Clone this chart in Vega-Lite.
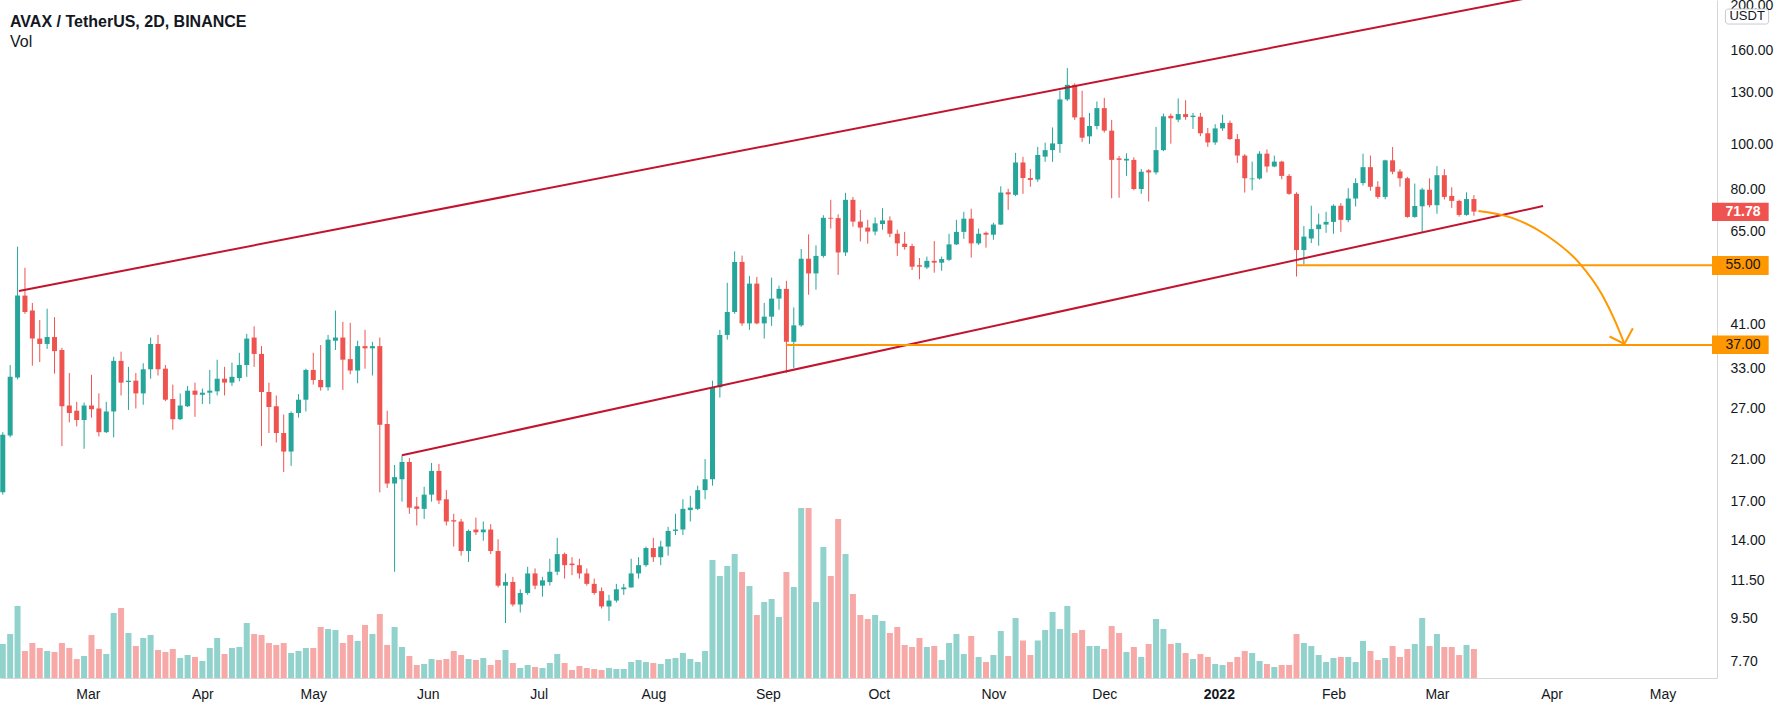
{
  "$schema": "https://vega.github.io/schema/vega-lite/v6.json",
  "width": 1717,
  "height": 678,
  "autosize": {"type": "none"},
  "padding": {"left": 0, "top": 0, "right": 70, "bottom": 36},
  "background": "white",
  "title": {
    "text": "AVAX / TetherUS, 2D, BINANCE",
    "subtitle": "Vol",
    "anchor": "start",
    "frame": "group",
    "orient": "top",
    "offset": -52,
    "dx": 10,
    "font": "Liberation Sans",
    "fontSize": 16,
    "fontWeight": "bold",
    "color": "#131722",
    "subtitleFont": "Liberation Sans",
    "subtitleFontSize": 16,
    "subtitleFontWeight": "normal",
    "subtitleColor": "#131722",
    "subtitlePadding": 4
  },
  "config": {"view": {"stroke": null}},
  "datasets": {
    "candles": [
      {"d":"2021-02-06","o":17.8,"h":24.0,"l":17.6,"c":23.7,"v":3.4},
      {"d":"2021-02-08","o":23.6,"h":33.5,"l":23.4,"c":31.6,"v":4.4},
      {"d":"2021-02-10","o":31.5,"h":60.3,"l":31.2,"c":47.3,"v":7.2},
      {"d":"2021-02-12","o":47.3,"h":54.3,"l":43.2,"c":43.6,"v":2.7},
      {"d":"2021-02-14","o":43.9,"h":45.6,"l":33.4,"c":38.2,"v":3.5},
      {"d":"2021-02-16","o":38.2,"h":41.9,"l":34.0,"c":37.2,"v":3.0},
      {"d":"2021-02-18","o":37.2,"h":44.3,"l":36.3,"c":38.5,"v":2.7},
      {"d":"2021-02-20","o":38.5,"h":42.5,"l":32.1,"c":35.9,"v":2.6},
      {"d":"2021-02-22","o":36.1,"h":36.5,"l":22.4,"c":27.3,"v":3.5},
      {"d":"2021-02-24","o":27.4,"h":32.2,"l":25.2,"c":26.4,"v":3.0},
      {"d":"2021-02-26","o":26.7,"h":27.9,"l":24.7,"c":25.5,"v":1.9},
      {"d":"2021-02-28","o":25.5,"h":27.8,"l":22.1,"c":27.4,"v":2.2},
      {"d":"2021-03-02","o":27.4,"h":31.9,"l":25.8,"c":26.9,"v":4.3},
      {"d":"2021-03-04","o":27.0,"h":29.1,"l":23.5,"c":24.0,"v":2.9},
      {"d":"2021-03-06","o":24.0,"h":27.9,"l":23.9,"c":26.6,"v":2.4},
      {"d":"2021-03-08","o":26.6,"h":34.9,"l":23.4,"c":34.2,"v":6.5},
      {"d":"2021-03-10","o":34.2,"h":35.8,"l":28.8,"c":30.7,"v":7.0},
      {"d":"2021-03-12","o":30.8,"h":33.2,"l":26.8,"c":31.0,"v":4.5},
      {"d":"2021-03-14","o":31.0,"h":32.2,"l":27.0,"c":29.1,"v":3.2},
      {"d":"2021-03-16","o":29.1,"h":33.8,"l":27.5,"c":32.8,"v":4.0},
      {"d":"2021-03-18","o":32.8,"h":38.4,"l":31.3,"c":37.2,"v":4.3},
      {"d":"2021-03-20","o":37.2,"h":38.9,"l":31.8,"c":32.8,"v":2.8},
      {"d":"2021-03-22","o":32.9,"h":33.5,"l":28.0,"c":28.2,"v":2.6},
      {"d":"2021-03-24","o":28.3,"h":30.4,"l":24.3,"c":25.6,"v":2.9},
      {"d":"2021-03-26","o":25.6,"h":29.1,"l":25.5,"c":27.4,"v":2.0},
      {"d":"2021-03-28","o":27.3,"h":30.2,"l":27.2,"c":29.5,"v":2.3},
      {"d":"2021-03-30","o":29.5,"h":30.7,"l":25.9,"c":28.9,"v":2.1},
      {"d":"2021-04-01","o":28.9,"h":29.8,"l":27.6,"c":29.2,"v":1.7},
      {"d":"2021-04-03","o":29.2,"h":32.7,"l":27.6,"c":29.5,"v":3.0},
      {"d":"2021-04-05","o":29.4,"h":34.4,"l":28.8,"c":31.3,"v":4.0},
      {"d":"2021-04-07","o":31.3,"h":33.2,"l":28.8,"c":30.7,"v":2.4},
      {"d":"2021-04-09","o":30.7,"h":33.9,"l":30.2,"c":31.6,"v":3.0},
      {"d":"2021-04-11","o":31.4,"h":35.6,"l":30.9,"c":33.5,"v":3.1},
      {"d":"2021-04-13","o":33.5,"h":39.1,"l":31.6,"c":38.2,"v":5.5},
      {"d":"2021-04-15","o":38.4,"h":40.6,"l":33.2,"c":35.4,"v":4.4},
      {"d":"2021-04-17","o":35.4,"h":36.8,"l":22.4,"c":29.3,"v":4.3},
      {"d":"2021-04-19","o":29.3,"h":30.7,"l":23.9,"c":27.2,"v":3.5},
      {"d":"2021-04-21","o":27.3,"h":28.8,"l":22.8,"c":23.9,"v":3.3},
      {"d":"2021-04-23","o":23.9,"h":26.2,"l":19.7,"c":21.8,"v":3.5},
      {"d":"2021-04-25","o":21.8,"h":26.6,"l":20.3,"c":26.4,"v":2.5},
      {"d":"2021-04-27","o":26.4,"h":29.0,"l":25.8,"c":28.2,"v":2.7},
      {"d":"2021-04-29","o":28.2,"h":32.9,"l":26.6,"c":32.7,"v":3.0},
      {"d":"2021-05-01","o":32.7,"h":35.6,"l":30.4,"c":31.1,"v":3.0},
      {"d":"2021-05-03","o":31.1,"h":37.0,"l":29.5,"c":30.0,"v":5.1},
      {"d":"2021-05-05","o":30.0,"h":38.9,"l":29.5,"c":38.0,"v":4.9},
      {"d":"2021-05-07","o":37.8,"h":43.9,"l":36.1,"c":38.4,"v":4.8},
      {"d":"2021-05-09","o":38.4,"h":41.5,"l":29.6,"c":34.4,"v":3.5},
      {"d":"2021-05-11","o":34.5,"h":41.3,"l":32.0,"c":32.6,"v":4.3},
      {"d":"2021-05-13","o":32.6,"h":37.8,"l":30.6,"c":36.8,"v":3.7},
      {"d":"2021-05-15","o":36.8,"h":39.9,"l":32.9,"c":36.4,"v":5.3},
      {"d":"2021-05-17","o":36.4,"h":37.6,"l":31.8,"c":36.8,"v":4.4},
      {"d":"2021-05-19","o":36.8,"h":38.4,"l":17.8,"c":24.9,"v":6.4},
      {"d":"2021-05-21","o":25.0,"h":26.7,"l":18.2,"c":18.6,"v":3.3},
      {"d":"2021-05-23","o":18.6,"h":20.4,"l":12.0,"c":19.2,"v":5.1},
      {"d":"2021-05-25","o":19.0,"h":21.4,"l":17.0,"c":20.7,"v":3.1},
      {"d":"2021-05-27","o":20.7,"h":21.1,"l":16.0,"c":16.5,"v":2.2},
      {"d":"2021-05-29","o":16.6,"h":17.4,"l":15.1,"c":16.4,"v":1.3},
      {"d":"2021-05-31","o":16.4,"h":18.3,"l":15.6,"c":17.6,"v":1.4},
      {"d":"2021-06-02","o":17.6,"h":20.6,"l":17.0,"c":19.8,"v":1.9},
      {"d":"2021-06-04","o":19.8,"h":20.5,"l":16.8,"c":17.1,"v":1.8},
      {"d":"2021-06-06","o":17.2,"h":18.0,"l":15.1,"c":15.4,"v":1.9},
      {"d":"2021-06-08","o":15.5,"h":16.0,"l":13.6,"c":15.4,"v":2.7},
      {"d":"2021-06-10","o":15.4,"h":15.6,"l":13.0,"c":13.3,"v":2.3},
      {"d":"2021-06-12","o":13.3,"h":14.8,"l":12.6,"c":14.7,"v":1.9},
      {"d":"2021-06-14","o":14.8,"h":15.7,"l":14.4,"c":14.6,"v":1.8},
      {"d":"2021-06-16","o":14.6,"h":15.4,"l":14.0,"c":14.8,"v":2.0},
      {"d":"2021-06-18","o":14.8,"h":15.2,"l":13.1,"c":13.3,"v":1.3},
      {"d":"2021-06-20","o":13.3,"h":14.1,"l":11.1,"c":11.2,"v":1.8},
      {"d":"2021-06-22","o":11.2,"h":11.9,"l":9.3,"c":11.4,"v":2.8},
      {"d":"2021-06-24","o":11.4,"h":11.7,"l":10.1,"c":10.2,"v":1.5},
      {"d":"2021-06-26","o":10.2,"h":11.0,"l":9.8,"c":10.8,"v":1.0},
      {"d":"2021-06-28","o":10.8,"h":12.3,"l":10.7,"c":11.9,"v":1.3},
      {"d":"2021-06-30","o":11.9,"h":12.2,"l":11.0,"c":11.2,"v":1.1},
      {"d":"2021-07-02","o":11.2,"h":11.7,"l":10.6,"c":11.5,"v":1.0},
      {"d":"2021-07-04","o":11.4,"h":12.8,"l":11.2,"c":12.0,"v":1.5},
      {"d":"2021-07-06","o":12.0,"h":14.2,"l":11.8,"c":13.1,"v":2.4},
      {"d":"2021-07-08","o":13.1,"h":13.2,"l":11.6,"c":12.4,"v":1.5},
      {"d":"2021-07-10","o":12.5,"h":12.9,"l":11.8,"c":12.4,"v":0.8},
      {"d":"2021-07-12","o":12.4,"h":12.8,"l":11.6,"c":11.9,"v":1.2},
      {"d":"2021-07-14","o":11.9,"h":12.2,"l":11.2,"c":11.3,"v":1.0},
      {"d":"2021-07-16","o":11.3,"h":11.6,"l":10.7,"c":10.8,"v":0.9},
      {"d":"2021-07-18","o":10.9,"h":11.1,"l":10.0,"c":10.1,"v":0.8},
      {"d":"2021-07-20","o":10.1,"h":10.7,"l":9.4,"c":10.4,"v":1.0},
      {"d":"2021-07-22","o":10.4,"h":11.3,"l":10.3,"c":11.0,"v":0.9},
      {"d":"2021-07-24","o":11.0,"h":11.3,"l":10.7,"c":11.1,"v":0.9},
      {"d":"2021-07-26","o":11.1,"h":12.8,"l":11.1,"c":11.9,"v":1.6},
      {"d":"2021-07-28","o":11.9,"h":12.9,"l":11.6,"c":12.4,"v":1.8},
      {"d":"2021-07-30","o":12.4,"h":13.6,"l":12.3,"c":13.5,"v":1.6},
      {"d":"2021-08-01","o":13.5,"h":14.2,"l":12.6,"c":12.9,"v":1.5},
      {"d":"2021-08-03","o":12.9,"h":14.0,"l":12.4,"c":13.6,"v":1.4},
      {"d":"2021-08-05","o":13.6,"h":15.0,"l":13.0,"c":14.7,"v":1.9},
      {"d":"2021-08-07","o":14.7,"h":16.0,"l":14.4,"c":14.8,"v":2.0},
      {"d":"2021-08-09","o":14.8,"h":17.2,"l":14.4,"c":16.4,"v":2.5},
      {"d":"2021-08-11","o":16.3,"h":17.5,"l":15.4,"c":16.5,"v":1.9},
      {"d":"2021-08-13","o":16.4,"h":18.4,"l":16.3,"c":18.0,"v":1.6},
      {"d":"2021-08-15","o":18.0,"h":21.0,"l":17.2,"c":19.0,"v":2.7},
      {"d":"2021-08-17","o":19.0,"h":31.0,"l":18.4,"c":30.0,"v":11.8},
      {"d":"2021-08-19","o":30.0,"h":39.9,"l":28.5,"c":38.9,"v":10.2},
      {"d":"2021-08-21","o":38.9,"h":50.4,"l":38.0,"c":43.6,"v":11.2},
      {"d":"2021-08-23","o":43.6,"h":58.9,"l":43.2,"c":55.9,"v":12.4},
      {"d":"2021-08-25","o":55.9,"h":57.7,"l":40.7,"c":41.2,"v":10.6},
      {"d":"2021-08-27","o":41.2,"h":52.1,"l":39.9,"c":50.2,"v":9.2},
      {"d":"2021-08-29","o":50.2,"h":51.9,"l":41.0,"c":41.2,"v":6.3},
      {"d":"2021-08-31","o":41.2,"h":45.6,"l":38.2,"c":42.6,"v":7.6},
      {"d":"2021-09-02","o":42.6,"h":51.7,"l":40.7,"c":46.6,"v":7.9},
      {"d":"2021-09-04","o":46.6,"h":49.7,"l":44.1,"c":48.9,"v":6.1},
      {"d":"2021-09-06","o":48.9,"h":50.9,"l":32.2,"c":37.6,"v":10.6},
      {"d":"2021-09-08","o":37.6,"h":44.6,"l":33.0,"c":40.8,"v":9.1},
      {"d":"2021-09-10","o":40.8,"h":59.6,"l":40.5,"c":56.8,"v":17.0},
      {"d":"2021-09-12","o":56.8,"h":64.1,"l":47.5,"c":52.8,"v":17.0},
      {"d":"2021-09-14","o":52.8,"h":60.7,"l":48.7,"c":57.6,"v":7.6},
      {"d":"2021-09-16","o":57.6,"h":70.5,"l":57.1,"c":69.6,"v":13.1},
      {"d":"2021-09-18","o":69.6,"h":76.1,"l":66.0,"c":69.3,"v":10.2},
      {"d":"2021-09-20","o":69.5,"h":70.8,"l":52.4,"c":58.6,"v":15.9},
      {"d":"2021-09-22","o":58.6,"h":78.8,"l":57.6,"c":76.1,"v":12.4},
      {"d":"2021-09-24","o":76.1,"h":77.2,"l":66.6,"c":68.3,"v":8.4},
      {"d":"2021-09-26","o":68.3,"h":72.4,"l":61.9,"c":66.3,"v":6.3},
      {"d":"2021-09-28","o":66.3,"h":68.9,"l":61.2,"c":65.0,"v":5.9},
      {"d":"2021-09-30","o":65.0,"h":69.7,"l":63.8,"c":67.7,"v":6.3},
      {"d":"2021-10-02","o":67.5,"h":73.0,"l":65.6,"c":68.7,"v":5.7},
      {"d":"2021-10-04","o":68.7,"h":70.1,"l":63.2,"c":64.3,"v":4.5},
      {"d":"2021-10-06","o":64.3,"h":65.6,"l":57.6,"c":61.3,"v":5.1},
      {"d":"2021-10-08","o":61.2,"h":64.9,"l":59.4,"c":60.2,"v":3.3},
      {"d":"2021-10-10","o":60.5,"h":61.2,"l":53.7,"c":54.6,"v":3.1},
      {"d":"2021-10-12","o":55.0,"h":57.0,"l":51.3,"c":54.6,"v":4.0},
      {"d":"2021-10-14","o":54.4,"h":57.4,"l":54.0,"c":56.2,"v":3.1},
      {"d":"2021-10-16","o":56.2,"h":62.0,"l":53.0,"c":55.7,"v":3.2},
      {"d":"2021-10-18","o":55.7,"h":57.4,"l":53.5,"c":56.7,"v":1.8},
      {"d":"2021-10-20","o":56.5,"h":64.3,"l":56.2,"c":61.0,"v":3.5},
      {"d":"2021-10-22","o":61.0,"h":68.9,"l":60.8,"c":64.9,"v":4.4},
      {"d":"2021-10-24","o":64.9,"h":71.7,"l":62.7,"c":69.3,"v":2.4},
      {"d":"2021-10-26","o":69.3,"h":72.8,"l":57.1,"c":61.3,"v":4.2},
      {"d":"2021-10-28","o":61.3,"h":66.0,"l":60.8,"c":64.3,"v":2.1},
      {"d":"2021-10-30","o":64.6,"h":65.0,"l":60.0,"c":64.0,"v":1.6},
      {"d":"2021-11-01","o":64.0,"h":67.9,"l":62.4,"c":67.3,"v":2.3},
      {"d":"2021-11-03","o":67.3,"h":81.4,"l":67.2,"c":78.9,"v":4.7},
      {"d":"2021-11-05","o":79.0,"h":80.4,"l":72.4,"c":78.2,"v":2.2},
      {"d":"2021-11-07","o":78.0,"h":96.1,"l":77.5,"c":91.6,"v":6.0},
      {"d":"2021-11-09","o":91.6,"h":94.2,"l":78.4,"c":84.8,"v":3.75},
      {"d":"2021-11-11","o":84.8,"h":88.7,"l":81.2,"c":84.0,"v":2.3},
      {"d":"2021-11-13","o":84.2,"h":99.0,"l":83.2,"c":95.1,"v":3.75},
      {"d":"2021-11-15","o":94.3,"h":101.1,"l":91.9,"c":97.4,"v":4.8},
      {"d":"2021-11-17","o":97.4,"h":109.0,"l":91.9,"c":100.7,"v":6.6},
      {"d":"2021-11-19","o":100.4,"h":130.9,"l":96.1,"c":125.3,"v":4.9},
      {"d":"2021-11-21","o":125.3,"h":146.4,"l":124.3,"c":134.7,"v":7.2},
      {"d":"2021-11-23","o":134.7,"h":135.8,"l":113.2,"c":114.6,"v":4.5},
      {"d":"2021-11-25","o":114.6,"h":130.8,"l":101.5,"c":103.6,"v":4.8},
      {"d":"2021-11-27","o":104.3,"h":117.2,"l":100.5,"c":109.8,"v":3.2},
      {"d":"2021-11-29","o":109.8,"h":124.0,"l":108.0,"c":120.0,"v":3.2},
      {"d":"2021-12-01","o":120.0,"h":126.3,"l":106.3,"c":107.3,"v":2.9},
      {"d":"2021-12-03","o":107.3,"h":113.2,"l":76.7,"c":92.8,"v":5.2},
      {"d":"2021-12-05","o":93.5,"h":94.6,"l":76.9,"c":92.8,"v":4.5},
      {"d":"2021-12-07","o":92.5,"h":95.9,"l":85.7,"c":93.3,"v":2.6},
      {"d":"2021-12-09","o":92.8,"h":94.0,"l":79.8,"c":80.3,"v":3.1},
      {"d":"2021-12-11","o":80.3,"h":88.7,"l":78.4,"c":87.5,"v":2.1},
      {"d":"2021-12-13","o":88.1,"h":88.7,"l":75.5,"c":87.2,"v":3.4},
      {"d":"2021-12-15","o":87.2,"h":109.3,"l":86.3,"c":97.4,"v":5.9},
      {"d":"2021-12-17","o":97.4,"h":116.8,"l":96.9,"c":115.2,"v":4.9},
      {"d":"2021-12-19","o":115.5,"h":116.8,"l":100.6,"c":114.1,"v":3.4},
      {"d":"2021-12-21","o":113.3,"h":125.9,"l":111.9,"c":116.5,"v":3.5},
      {"d":"2021-12-23","o":116.5,"h":124.8,"l":113.2,"c":114.8,"v":2.5},
      {"d":"2021-12-25","o":114.8,"h":117.2,"l":108.2,"c":115.6,"v":1.9},
      {"d":"2021-12-27","o":115.0,"h":117.2,"l":104.4,"c":105.9,"v":2.4},
      {"d":"2021-12-29","o":105.9,"h":108.7,"l":99.0,"c":101.2,"v":2.1},
      {"d":"2021-12-31","o":101.2,"h":110.8,"l":100.0,"c":108.5,"v":1.4},
      {"d":"2022-01-02","o":108.5,"h":116.1,"l":107.2,"c":111.5,"v":1.3},
      {"d":"2022-01-04","o":111.5,"h":112.8,"l":102.5,"c":102.9,"v":1.6},
      {"d":"2022-01-06","o":102.9,"h":105.5,"l":91.4,"c":94.8,"v":2.1},
      {"d":"2022-01-08","o":94.8,"h":95.5,"l":78.9,"c":84.7,"v":2.7},
      {"d":"2022-01-10","o":84.3,"h":92.0,"l":79.8,"c":84.6,"v":2.5},
      {"d":"2022-01-12","o":84.6,"h":96.9,"l":84.1,"c":95.7,"v":1.7},
      {"d":"2022-01-14","o":95.7,"h":97.7,"l":87.2,"c":89.8,"v":1.4},
      {"d":"2022-01-16","o":89.8,"h":94.8,"l":89.5,"c":92.0,"v":1.1},
      {"d":"2022-01-18","o":92.0,"h":92.4,"l":84.3,"c":85.7,"v":1.3},
      {"d":"2022-01-20","o":85.7,"h":86.5,"l":78.0,"c":78.4,"v":1.3},
      {"d":"2022-01-22","o":78.4,"h":79.0,"l":52.0,"c":59.3,"v":4.4},
      {"d":"2022-01-24","o":59.3,"h":66.8,"l":55.2,"c":63.4,"v":3.5},
      {"d":"2022-01-26","o":62.8,"h":73.9,"l":61.4,"c":65.8,"v":3.2},
      {"d":"2022-01-28","o":65.8,"h":71.1,"l":60.6,"c":67.3,"v":2.3},
      {"d":"2022-01-30","o":67.3,"h":71.7,"l":64.6,"c":68.2,"v":1.6},
      {"d":"2022-02-01","o":68.2,"h":74.4,"l":64.3,"c":73.9,"v":2.0},
      {"d":"2022-02-03","o":73.9,"h":74.9,"l":64.9,"c":68.9,"v":2.1},
      {"d":"2022-02-05","o":68.8,"h":80.6,"l":68.1,"c":76.6,"v":2.1},
      {"d":"2022-02-07","o":76.6,"h":84.7,"l":73.6,"c":82.7,"v":1.6},
      {"d":"2022-02-09","o":82.7,"h":95.7,"l":81.7,"c":89.5,"v":3.7},
      {"d":"2022-02-11","o":89.5,"h":94.8,"l":79.6,"c":81.2,"v":2.7},
      {"d":"2022-02-13","o":81.2,"h":83.5,"l":76.5,"c":77.2,"v":1.8},
      {"d":"2022-02-15","o":77.2,"h":92.9,"l":76.3,"c":92.6,"v":2.0},
      {"d":"2022-02-17","o":92.6,"h":98.9,"l":86.4,"c":87.5,"v":3.2},
      {"d":"2022-02-19","o":87.6,"h":88.6,"l":81.2,"c":84.7,"v":2.1},
      {"d":"2022-02-21","o":84.7,"h":85.3,"l":69.6,"c":69.9,"v":2.9},
      {"d":"2022-02-23","o":69.9,"h":82.5,"l":69.6,"c":73.8,"v":3.4},
      {"d":"2022-02-25","o":73.7,"h":80.8,"l":64.9,"c":80.1,"v":6.0},
      {"d":"2022-02-27","o":80.0,"h":84.7,"l":73.3,"c":74.1,"v":3.2},
      {"d":"2022-03-01","o":74.1,"h":90.0,"l":71.0,"c":86.0,"v":4.4},
      {"d":"2022-03-03","o":86.0,"h":88.6,"l":76.2,"c":77.2,"v":3.1},
      {"d":"2022-03-05","o":77.6,"h":81.0,"l":73.1,"c":75.7,"v":3.1},
      {"d":"2022-03-07","o":75.7,"h":76.2,"l":70.0,"c":70.6,"v":2.3},
      {"d":"2022-03-09","o":70.6,"h":79.0,"l":70.3,"c":76.4,"v":3.3},
      {"d":"2022-03-11","o":76.4,"h":77.9,"l":70.3,"c":71.78,"v":2.9}
    ],
    "trend": [
      {"id":"upper","d":"2021-02-10T09:00:00Z","p":48.4},
      {"id":"upper","d":"2022-04-12T22:00:00Z","p":221.3},
      {"id":"lower","d":"2021-05-25T00:00:00Z","p":21.4},
      {"id":"lower","d":"2022-03-29T17:00:00Z","p":73.8}
    ],
    "levels": [
      {"d":"2022-01-22T00:00:00Z","d2":"2022-06-01T00:00:00Z","p":55},
      {"d":"2021-09-06T00:00:00Z","d2":"2022-06-01T00:00:00Z","p":37}
    ],
    "curve": [
      {"d":"2022-03-12T05:00:00Z","p":72.0},
      {"d":"2022-03-21T12:00:00Z","p":69.5},
      {"d":"2022-03-30T12:00:00Z","p":63.9},
      {"d":"2022-04-08T10:00:00Z","p":55.7},
      {"d":"2022-04-14T19:00:00Z","p":47.3},
      {"d":"2022-04-18T07:00:00Z","p":41.5},
      {"d":"2022-04-20T17:00:00Z","p":37.2}
    ],
    "head": [
      {"d":"2022-04-16T17:00:00Z","p":38.6},
      {"d":"2022-04-20T17:00:00Z","p":37.2},
      {"d":"2022-04-23T00:00:00Z","p":40.2}
    ],
    "tags": [
      {"k":"last","d":"2022-05-14T09:50:00Z","d2":"2022-05-29T17:45:00Z","p":75.0,"p2":68.5},
      {"k":"level","d":"2022-05-14T09:50:00Z","d2":"2022-05-29T17:45:00Z","p":57.6,"p2":52.4},
      {"k":"level","d":"2022-05-14T09:50:00Z","d2":"2022-05-29T17:45:00Z","p":38.8,"p2":35.4}
    ],
    "tagText": [
      {"k":"last","t":"71.78","d":"2022-05-18T01:00:00Z","p":71.78},
      {"k":"level","t":"55.00","d":"2022-05-18T01:00:00Z","p":55},
      {"k":"level","t":"37.00","d":"2022-05-18T01:00:00Z","p":37}
    ],
    "unitBox": [
      {"t":"USDT","d":"2022-05-18T01:00:00Z","d2":"2022-05-29T17:45:00Z","dc":"2022-05-23T22:00:00Z","p":196.3,"p2":182.2,"pc":189.3}
    ]
  },
  "encoding": {
    "x": {
      "field": "d",
      "type": "temporal",
      "scale": {
        "type": "utc",
        "domain": [
          {"year": 2021, "month": 2, "date": 6, "hours": 14, "minutes": 24, "utc": true},
          {"year": 2022, "month": 5, "date": 14, "hours": 9, "minutes": 50, "utc": true}
        ]
      },
      "axis": {
        "title": null,
        "grid": false,
        "ticks": false,
        "tickSize": 0,
        "domain": true,
        "domainColor": "#d6d6d6",
        "tickCount": {"interval": "month", "step": 1},
        "labelExpr": "utcmonth(datum.value) == 0 ? utcFormat(datum.value, '%Y') : utcFormat(datum.value, '%b')",
        "labelFontWeight": {"condition": {"test": "utcmonth(datum.value) == 0", "value": "bold"}, "value": "normal"},
        "labelFont": "Liberation Sans",
        "labelFontSize": 14,
        "labelColor": "#131722",
        "labelPadding": 9,
        "labelOverlap": false,
        "labelFlush": false
      }
    }
  },
  "layer": [
    {
      "data": {"name": "candles"},
      "mark": {"type": "bar", "width": 6, "opacity": 0.5, "clip": true},
      "encoding": {
        "y": {"field": "v", "type": "quantitative", "scale": {"domain": [0, 67.8], "nice": false, "zero": true}, "axis": null},
        "color": {"condition": {"test": "datum.c >= datum.o", "value": "#26a69a"}, "value": "#ef5350"}
      }
    },
    {
      "layer": [
        {
          "data": {"name": "candles"},
          "mark": {"type": "rule", "strokeWidth": 1, "clip": true},
          "encoding": {
            "y": {
              "field": "l",
              "type": "quantitative",
              "scale": {"type": "log", "domain": [7.08, 205.3], "nice": false},
              "axis": {
                "orient": "right",
                "title": null,
                "grid": false,
                "ticks": false,
                "tickSize": 0,
                "domain": true,
                "domainColor": "#d6d6d6",
                "values": [7.7, 9.5, 11.5, 14, 17, 21, 27, 33, 41, 65, 80, 100, 130, 160, 200],
                "format": ".2f",
                "labelFont": "Liberation Sans",
                "labelFontSize": 14,
                "labelColor": "#131722",
                "labelPadding": 13,
                "labelOverlap": false,
                "labelBaseline": "middle"
              }
            },
            "y2": {"field": "h"},
            "color": {"condition": {"test": "datum.c >= datum.o", "value": "#26a69a"}, "value": "#ef5350"}
          }
        },
        {
          "data": {"name": "candles"},
          "mark": {"type": "bar", "width": 5, "clip": true},
          "encoding": {
            "y": {"field": "o", "type": "quantitative"},
            "y2": {"field": "c"},
            "color": {"condition": {"test": "datum.c >= datum.o", "value": "#26a69a"}, "value": "#ef5350"}
          }
        },
        {
          "data": {"name": "trend"},
          "mark": {"type": "line", "color": "#c2142e", "strokeWidth": 2, "clip": true},
          "encoding": {
            "y": {"field": "p", "type": "quantitative"},
            "detail": {"field": "id"}
          }
        },
        {
          "data": {"name": "levels"},
          "mark": {"type": "rule", "color": "#ff9800", "strokeWidth": 2, "clip": true},
          "encoding": {
            "x2": {"field": "d2"},
            "y": {"field": "p", "type": "quantitative"}
          }
        },
        {
          "data": {"name": "curve"},
          "mark": {"type": "line", "color": "#ff9800", "strokeWidth": 2, "interpolate": "monotone", "clip": true},
          "encoding": {
            "y": {"field": "p", "type": "quantitative"}
          }
        },
        {
          "data": {"name": "head"},
          "mark": {"type": "line", "color": "#ff9800", "strokeWidth": 2, "clip": true},
          "encoding": {
            "y": {"field": "p", "type": "quantitative"}
          }
        },
        {
          "data": {"name": "tags"},
          "mark": {"type": "rect", "clip": false},
          "encoding": {
            "x2": {"field": "d2"},
            "y": {"field": "p", "type": "quantitative"},
            "y2": {"field": "p2"},
            "color": {"condition": {"test": "datum.k == 'last'", "value": "#ef5350"}, "value": "#ff9800"}
          }
        },
        {
          "data": {"name": "unitBox"},
          "mark": {"type": "rect", "fill": "white", "stroke": "#c8cad0", "strokeWidth": 1, "cornerRadius": 3, "clip": false},
          "encoding": {
            "x2": {"field": "d2"},
            "y": {"field": "p", "type": "quantitative"},
            "y2": {"field": "p2"}
          }
        },
        {
          "data": {"name": "tagText"},
          "transform": [{"filter": "datum.k == 'level'"}],
          "mark": {"type": "text", "align": "left", "baseline": "middle", "font": "Liberation Sans", "fontSize": 14, "color": "#131722", "clip": false},
          "encoding": {
            "y": {"field": "p", "type": "quantitative"},
            "text": {"field": "t"}
          }
        },
        {
          "data": {"name": "tagText"},
          "transform": [{"filter": "datum.k == 'last'"}],
          "mark": {"type": "text", "align": "left", "baseline": "middle", "font": "Liberation Sans", "fontSize": 14, "fontWeight": "bold", "color": "white", "clip": false},
          "encoding": {
            "y": {"field": "p", "type": "quantitative"},
            "text": {"field": "t"}
          }
        },
        {
          "data": {"name": "unitBox"},
          "mark": {"type": "text", "align": "center", "baseline": "middle", "font": "Liberation Sans", "fontSize": 13, "color": "#131722", "clip": false},
          "encoding": {
            "x": {"field": "dc", "type": "temporal"},
            "y": {"field": "pc", "type": "quantitative"},
            "text": {"field": "t"}
          }
        }
      ]
    }
  ],
  "resolve": {"scale": {"y": "independent"}}
}
